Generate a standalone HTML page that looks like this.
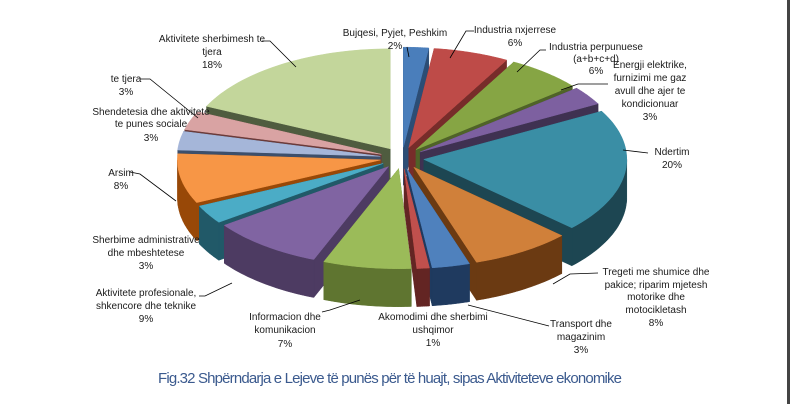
<!DOCTYPE html>
<html><head><meta charset="utf-8"><style>
html,body{margin:0;padding:0;background:#fff;}
#w{position:relative;width:790px;height:404px;overflow:hidden;}
svg text{font-family:"Liberation Sans",sans-serif;font-size:10px;fill:#1a1a1a;}
</style></head><body><div id="w">
<svg id="s" width="790" height="404" viewBox="0 0 790 404" xmlns="http://www.w3.org/2000/svg">
<g id="pie"></g>
<g stroke="#000" stroke-width="0.8" fill="none">
<polyline points="409,57 407,47"/>
<polyline points="450,58 466,31 474,31"/>
<polyline points="517,72 540,50 546,50"/>
<polyline points="561,90 578,84 608,84"/>
<polyline points="623,150 648,153"/>
<polyline points="553,284 570,274 598,273"/>
<polyline points="468,305 549,326"/>
<polyline points="360,300 330,310 322,312"/>
<polyline points="232,283 205,296 199,296"/>
<polyline points="130,172 140,174 176,201"/>
<polyline points="140,79 150,79 198,118"/>
<polyline points="262,41 270,41 296,67"/>
</g>
<g text-anchor="middle">
<text x="395" y="36">Bujqesi, Pyjet, Peshkim</text><text x="395" y="49">2%</text>
<text x="515" y="33">Industria nxjerrese</text><text x="515" y="46">6%</text>
<text x="596" y="50">Industria perpunuese</text><text x="596" y="62">(a+b+c+d)</text><text x="596" y="74">6%</text>
<text x="650" y="68">Energji elektrike,</text><text x="650" y="81">furnizimi me gaz</text><text x="650" y="94">avull dhe ajer te</text><text x="650" y="107">kondicionuar</text><text x="650" y="120">3%</text>
<text x="672" y="155">Ndertim</text><text x="672" y="168">20%</text>
<text x="656" y="275">Tregeti me shumice dhe</text><text x="656" y="288">pakice; riparim mjetesh</text><text x="656" y="300">motorike dhe</text><text x="656" y="313">motocikletash</text><text x="656" y="326">8%</text>
<text x="581" y="327">Transport dhe</text><text x="581" y="340">magazinim</text><text x="581" y="353">3%</text>
<text x="433" y="320">Akomodimi dhe sherbimi</text><text x="433" y="333">ushqimor</text><text x="433" y="346">1%</text>
<text x="285" y="320">Informacion dhe</text><text x="285" y="333">komunikacion</text><text x="285" y="347">7%</text>
<text x="146" y="296">Aktivitete profesionale,</text><text x="146" y="309">shkencore dhe teknike</text><text x="146" y="322">9%</text>
<text x="146" y="243">Sherbime administrative</text><text x="146" y="256">dhe mbeshtetese</text><text x="146" y="269">3%</text>
<text x="121" y="176">Arsim</text><text x="121" y="189">8%</text>
<text x="151" y="115">Shendetesia dhe aktivitete</text><text x="151" y="127">te punes sociale</text><text x="151" y="141">3%</text>
<text x="126" y="82">te tjera</text><text x="126" y="95">3%</text>
<text x="212" y="42">Aktivitete sherbimesh te</text><text x="212" y="55">tjera</text><text x="212" y="68">18%</text>
</g>
<text x="158" y="383" style="font-size:15px;fill:#3b5a8e" textLength="464">Fig.32 Shpërndarja e Lejeve të punës për të huajt, sipas Aktiviteteve ekonomike</text>
<rect x="787" y="0" width="3" height="404" fill="#444"/>
</svg></div>
<script>
var d=[[2,"#4a7ebb","#2c4d75"],[6,"#be4b48","#772c2a"],[6,"#86a544","#4f6328"],[3,"#7d60a0","#3f3151"],[20,"#3a8ea5","#1d4652"],[8,"#d0803a","#6b3a12"],[3,"#4f81bd","#1f3a5f"],[1,"#c0504d","#632523"],[7,"#9bbb59","#5f7530"],[9,"#8064a2","#4d3b62"],[3,"#4bacc6","#215968"],[8,"#f79646","#984807"],[3,"#a5b6d9","#3d4f6b"],[3,"#d9a3a3","#6b3b3a"],[18,"#c3d69b","#4f5c3f"]];
var cx=402,cy=158,rx=203,ry=100,h=38,ex=22,NS="http://www.w3.org/2000/svg";
var g=document.getElementById("pie"),sl=[],a=0;
d.forEach(function(s){var a0=a*3.6*Math.PI/180;a+=s[0];var a1=a*3.6*Math.PI/180;var m=(a0+a1)/2;
sl.push({a0:a0,a1:a1,m:m,dx:ex*Math.sin(m),dy:-ex*Math.cos(m)*ry/rx,c:s[1],k:s[2]});});
function P(o,t,z){return [cx+o.dx+rx*Math.sin(t),cy+o.dy-ry*Math.cos(t)+z];}
function poly(pts,f){var p=document.createElementNS(NS,"polygon");p.setAttribute("points",pts.map(function(q){return q[0].toFixed(1)+","+q[1].toFixed(1)}).join(" "));p.setAttribute("fill",f);p.setAttribute("stroke",f);p.setAttribute("stroke-width","0.5");g.appendChild(p);}
sl.slice().sort(function(u,v){return -Math.cos(u.m)- -Math.cos(v.m);}).forEach(function(o){
var C=[cx+o.dx,cy+o.dy],Cb=[C[0],C[1]+h];
[o.a0,o.a1].forEach(function(t){var e=P(o,t,0),eb=P(o,t,h);poly([C,e,eb,Cb],o.k);});
var s0=Math.max(o.a0,Math.PI/2),s1=Math.min(o.a1,1.5*Math.PI);
if(s1>s0){var top=[],bot=[];for(var i=0;i<=30;i++){var t=s0+(s1-s0)*i/30;top.push(P(o,t,0));bot.push(P(o,t,h));}poly(top.concat(bot.reverse()),o.k);}
var pts=[C];for(var i=0;i<=40;i++){pts.push(P(o,o.a0+(o.a1-o.a0)*i/40,0));}poly(pts,o.c);
});
</script>
</body></html>
